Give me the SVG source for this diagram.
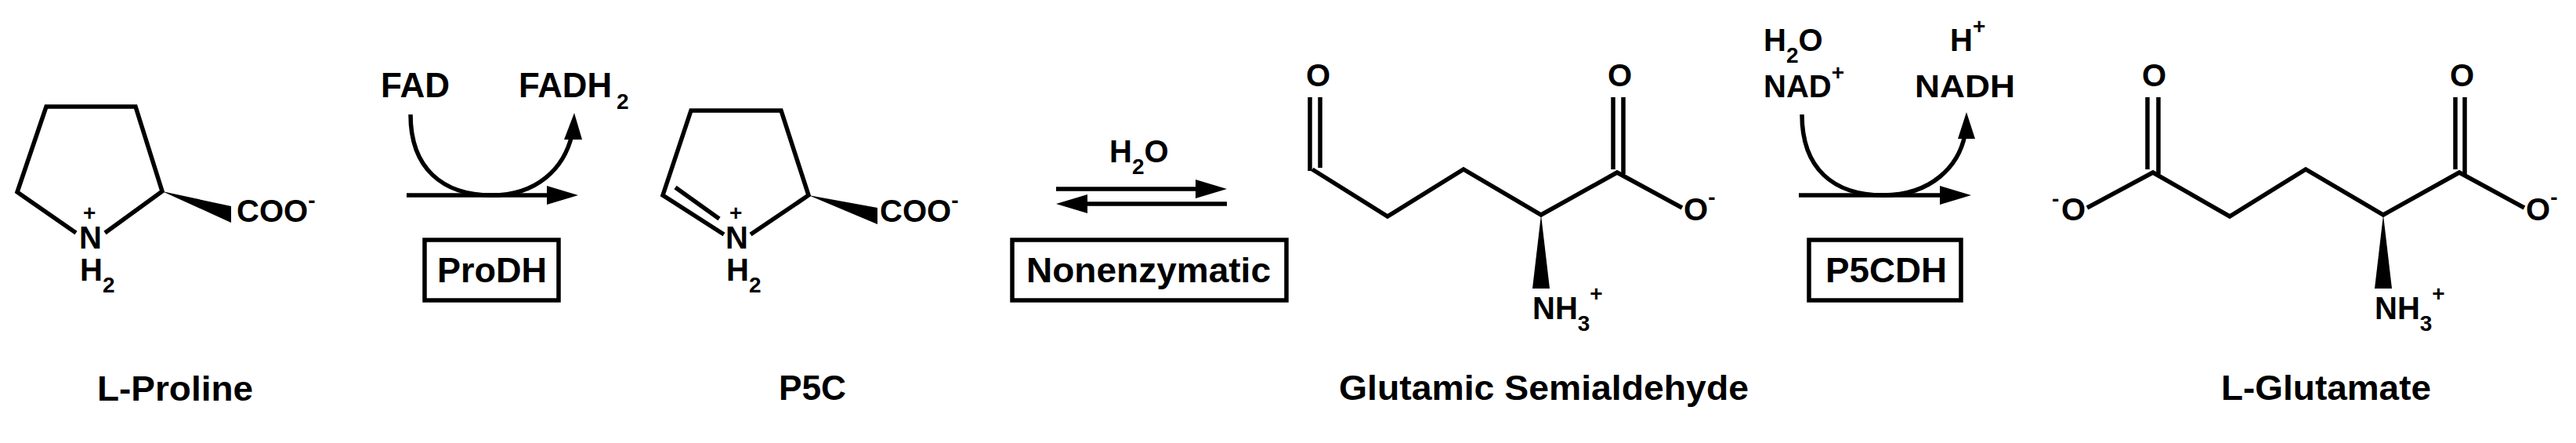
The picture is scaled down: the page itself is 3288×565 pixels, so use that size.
<svg xmlns="http://www.w3.org/2000/svg" width="3288" height="565" viewBox="0 0 3288 565">
<style>
.b{fill:none;stroke:#000;stroke-width:5.5;stroke-linejoin:miter;stroke-linecap:butt}
.t{font-family:"Liberation Sans",Arial,sans-serif;font-weight:bold;fill:#000}
.a{font-size:40px}
.l{font-size:45px}
.s{font-size:28px}
.box{fill:none;stroke:#000;stroke-width:5.5}
</style>
<rect width="3288" height="565" fill="#fff"/>
<g id="proline">
<path class="b" d="M97,297 L22,245 L59,136 L173,136 L207,244 L134,297"/>
<polygon points="207,244 295,263 295,284"/>
<text class="t a" x="101" y="317">N</text>
<text class="t s" x="106" y="281">+</text>
<text class="t a" x="102" y="358">H<tspan class="s" dy="15">2</tspan></text>
<text class="t a" x="302" y="283">COO<tspan class="s" dy="-18">-</tspan></text>
<text class="t l" x="124" y="511" textLength="199" lengthAdjust="spacingAndGlyphs">L-Proline</text>
</g>
<g id="p5c">
<path class="b" d="M924,299 L846,249 L882,141 L997,141 L1032,249 L958,299"/>
<path class="b" d="M862,239 L918,279"/>
<polygon points="1032,249 1120,265 1120,286"/>
<text class="t a" x="926" y="317">N</text>
<text class="t s" x="931" y="281">+</text>
<text class="t a" x="927" y="358">H<tspan class="s" dy="15">2</tspan></text>
<text class="t a" x="1123" y="283">COO<tspan class="s" dy="-18">-</tspan></text>
<text class="t l" x="994" y="510" textLength="86" lengthAdjust="spacingAndGlyphs">P5C</text>
</g>
<g id="gsa">
<path class="b" d="M1675,216 L1771,276 L1868,216 L1967,274 L2064,220 L2147,265"/>
<path class="b" d="M1672,124 L1672,218 M1685,124 L1685,214"/>
<path class="b" d="M2059,124 L2059,216 M2072,124 L2072,222"/>
<polygon points="1967,274 1956,368 1978,368"/>
<text class="t a" x="1667" y="110">O</text>
<text class="t a" x="2052" y="110">O</text>
<text class="t a" x="2149" y="281">O<tspan class="s" dy="-20">-</tspan></text>
<text class="t a" x="1956" y="407">NH<tspan class="s" dy="15">3</tspan><tspan class="s" dy="-38">+</tspan></text>
<text class="t l" x="1709" y="510" textLength="523" lengthAdjust="spacingAndGlyphs">Glutamic Semialdehyde</text>
</g>
<g id="glutamate">
<path class="b" d="M2664,265 L2748,220 L2846,276 L2943,216 L3042,274 L3139,220 L3222,265"/>
<path class="b" d="M2741,124 L2741,216 M2755,124 L2755,222"/>
<path class="b" d="M3134,124 L3134,216 M3146,124 L3146,222"/>
<polygon points="3042,274 3031,368 3053,368"/>
<text class="t s" x="2619" y="263">-</text>
<text class="t a" x="2631" y="281">O</text>
<text class="t a" x="2734" y="110">O</text>
<text class="t a" x="3127" y="110">O</text>
<text class="t a" x="3224" y="281">O<tspan class="s" dy="-20">-</tspan></text>
<text class="t a" x="3031" y="407">NH<tspan class="s" dy="15">3</tspan><tspan class="s" dy="-38">+</tspan></text>
<text class="t l" x="2835" y="510" textLength="268" lengthAdjust="spacingAndGlyphs">L-Glutamate</text>
</g>
<g id="prodh">
<rect class="box" x="542" y="306" width="171" height="77"/>
<text class="t l" x="558" y="360" textLength="140" lengthAdjust="spacingAndGlyphs">ProDH</text>
</g>
<g id="nonenzymatic">
<rect class="box" x="1292" y="306" width="350" height="77"/>
<text class="t l" x="1310" y="360" textLength="312" lengthAdjust="spacingAndGlyphs">Nonenzymatic</text>
</g>
<g id="p5cdh">
<rect class="box" x="2309" y="306" width="194" height="77"/>
<text class="t l" x="2330" y="360" textLength="155" lengthAdjust="spacingAndGlyphs">P5CDH</text>
</g>
<g id="cofactors">
<text class="t l" x="486" y="124" textLength="88" lengthAdjust="spacingAndGlyphs">FAD</text>
<text class="t l" x="662" y="124" textLength="119" lengthAdjust="spacingAndGlyphs">FADH</text>
<text class="t s" x="787" y="139">2</text>
<text class="t a" x="1416" y="207">H<tspan class="s" dy="15">2</tspan><tspan dy="-15">O</tspan></text>
<text class="t a" x="2251" y="65">H<tspan class="s" dy="15">2</tspan><tspan dy="-15">O</tspan></text>
<text class="t a" x="2251" y="124">NAD<tspan class="s" dy="-22">+</tspan></text>
<text class="t a" x="2489" y="65">H<tspan class="s" dy="-22">+</tspan></text>
<text class="t a" x="2444" y="124" textLength="128" lengthAdjust="spacingAndGlyphs">NADH</text>
</g>
<g id="connectors">
<path class="b" d="M524,146 C524,215 565,249 628,249 C685,249 720,215 730,172"/>
<polygon points="733,144 720,178 743,178"/>
<path class="b" d="M519,249 L702,249"/>
<polygon points="738,249 698,237 698,261"/>
<path class="b" d="M1348,241 L1530,241"/>
<polygon points="1566,241 1526,229 1526,253"/>
<path class="b" d="M1566,260 L1384,260"/>
<polygon points="1348,260 1388,248 1388,272"/>
<path class="b" d="M2300,146 C2300,215 2340,249 2404,249 C2465,249 2500,212 2508,172"/>
<polygon points="2510,143 2499,177 2521,177"/>
<path class="b" d="M2296,249 L2480,249"/>
<polygon points="2516,249 2476,237 2476,261"/>
</g>
</svg>
